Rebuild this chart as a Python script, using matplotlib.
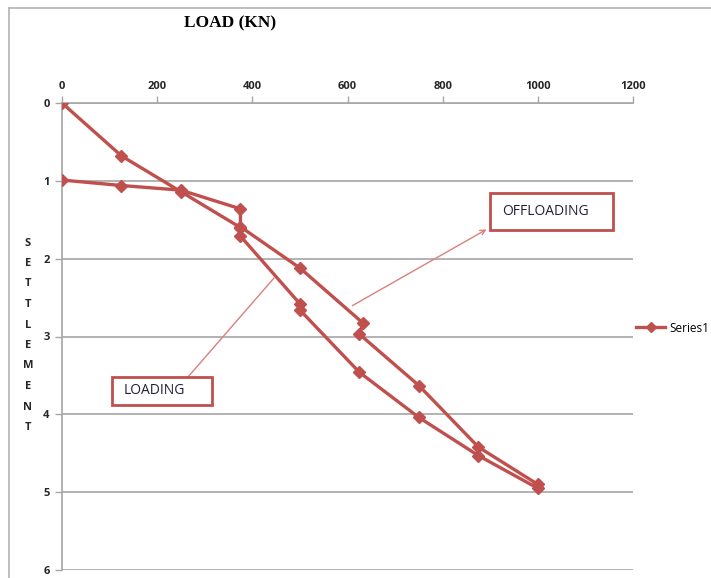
import matplotlib
matplotlib.use("Agg")
import matplotlib.pyplot as plt
from matplotlib.patches import Rectangle, FancyArrowPatch
from matplotlib.lines import Line2D

# Load (kN) and settlement, in test order: loading up to 1000 kN, then offloading
load = [0, 125, 250, 375, 375, 500, 500, 625, 750, 875, 1000,
        1000, 875, 750, 625, 633, 500, 375, 375, 250, 125, 0]
settlement = [0, 0.68, 1.14, 1.60, 1.71, 2.58, 2.66, 3.46, 4.04, 4.53, 4.95,
              4.90, 4.42, 3.63, 2.97, 2.83, 2.12, 1.59, 1.36, 1.12, 1.06, 0.99]

x_ticks = [0, 200, 400, 600, 800, 1000, 1200]
y_ticks = [0, 1, 2, 3, 4, 5, 6]
series_name = "Series1"
title_text = "LOAD (KN)"
y_label = "SETTLEMENT"

W, H = 711, 578
RED = "#C0504D"
GRID = "#A6A6A6"
TEXT = "#262626"

plt.rcParams["font.family"] = ["Open Sans", "DejaVu Sans"]

fig = plt.figure(figsize=(W / 100, H / 100), dpi=100)


def fx(px):
    return px / W


def fy(py):
    return 1 - py / H


ax = fig.add_axes([fx(62), fy(570), fx(633) - fx(62), fy(103) - fy(570)])

ax.plot(load, settlement, color=RED, lw=2.4, marker="D", ms=6.5,
        mfc=RED, mec=RED, label=series_name, zorder=3)

ax.set_xlim(0, 1200)
ax.set_ylim(6, 0)
ax.set_xticks(x_ticks)
ax.set_yticks(y_ticks)
ax.xaxis.tick_top()
ax.tick_params(axis="both", colors=GRID, labelcolor=TEXT, labelsize=8,
               length=5, width=1)
ax.tick_params(axis="x", pad=3)
ax.tick_params(axis="y", pad=4)
for lab in ax.get_xticklabels() + ax.get_yticklabels():
    lab.set_fontweight("bold")

ax.grid(axis="y", color=GRID, lw=1.2)
ax.grid(axis="x", visible=False)
ax.set_axisbelow(True)
for side in ("right", "bottom"):
    ax.spines[side].set_visible(False)
for side in ("top", "left"):
    ax.spines[side].set_color(GRID)
    ax.spines[side].set_linewidth(1.2)

# Legend to the right of the plot area
ax.legend(loc="center left", bbox_to_anchor=(fx(630), fy(328)),
          bbox_transform=fig.transFigure, frameon=False, fontsize=8.5,
          handlelength=2.5, handletextpad=0.3, borderpad=0, numpoints=1,
          markerscale=0.8)

# Chart frame
fig.add_artist(Line2D([fx(9), fx(711)], [fy(8), fy(8)], color="#B3B3B3", lw=1.2))
fig.add_artist(Line2D([fx(9), fx(9)], [fy(8), fy(578)], color="#B3B3B3", lw=1.2))

# Title
fig.text(fx(230), fy(23), title_text, ha="center", va="center",
         fontsize=12.5, fontweight="bold", family="Liberation Serif", color="black")

# Vertical stacked axis label
for i, ch in enumerate(y_label):
    fig.text(fx(28), fy(243 + i * 20.5), ch, ha="center", va="center",
             fontsize=8, fontweight="bold", color=TEXT)

# Annotation boxes
def label_box(x0, y0, x1, y1, text, tx):
    fig.add_artist(Rectangle((fx(x0), fy(y1)), fx(x1) - fx(x0), fy(y0) - fy(y1),
                             transform=fig.transFigure, fill=True, fc="white",
                             ec=RED, lw=2.0, zorder=5))
    fig.text(fx(tx), fy((y0 + y1) / 2), text, ha="left", va="center",
             fontsize=10, color="#1F1F3A", zorder=6)


label_box(490, 193, 613, 230, "OFFLOADING", 502)
label_box(112, 377, 212, 405, "LOADING", 124)

fig.add_artist(FancyArrowPatch((fx(350), fy(307)), (fx(489), fy(228)),
                               transform=fig.transFigure, arrowstyle="->",
                               mutation_scale=9, color="#D9817E", lw=1.0, zorder=4))
fig.add_artist(Line2D([fx(188), fx(274)], [fy(377), fy(278)],
                      color="#D9817E", lw=1.0, zorder=4))

fig.savefig("out.png", dpi=100)
